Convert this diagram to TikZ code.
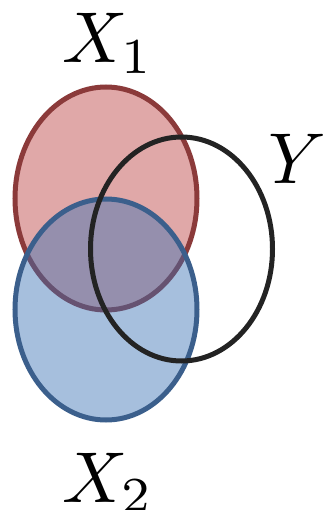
\documentclass[tikz,border=0pt]{standalone}
\usepackage{graphicx}
\begin{document}
\begin{tikzpicture}[x=1pt,y=-1pt,
  lbl/.style={inner sep=0pt,anchor=base west},
  ring/.style={line width=5pt}]
\definecolor{redfill}{RGB}{224,168,168}
\definecolor{redline}{RGB}{139,58,58}
\definecolor{bluefill}{RGB}{58,113,180}
\definecolor{blueline}{RGB}{59,95,140}
\definecolor{blackline}{RGB}{35,35,35}
\useasboundingbox (0,0) rectangle (323,510);
\path[ring,fill=redfill,draw=redline] (106,198.5) ellipse [x radius=91, y radius=111.5];
\path[ring,fill=bluefill,fill opacity=0.45,draw=blueline] (106,309.5) ellipse [x radius=91, y radius=110.5];
\path[ring,draw=blackline] (181.5,249) ellipse [x radius=91, y radius=112];
\node[lbl] (x1) at (62,63) {\scalebox{7.2}{$X_1$}};
\node[lbl] (x2) at (62,502) {\scalebox{7.2}{$X_2$}};
\node[lbl] (y) at (268,184) {\scalebox{7.2}{$Y$}};
\end{tikzpicture}
\end{document}
